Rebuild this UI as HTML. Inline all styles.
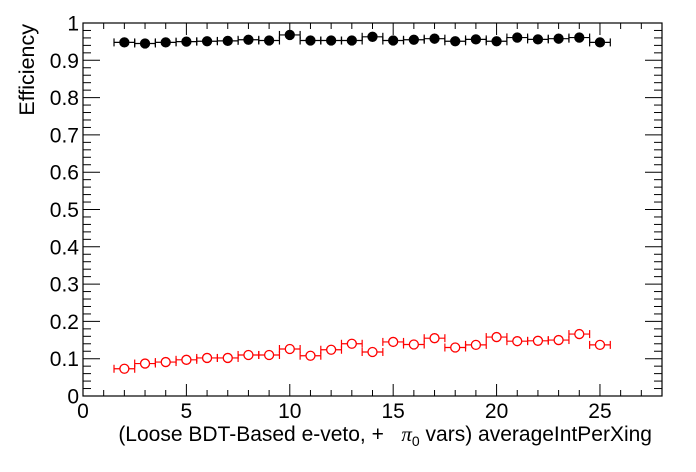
<!DOCTYPE html>
<html><head><meta charset="utf-8"><style>body{margin:0;background:#fff}svg{display:block}text{font-family:"Liberation Sans",Arial,sans-serif;fill:#000}</style></head>
<body>
<svg id="s" width="696" height="472" xmlns="http://www.w3.org/2000/svg"></svg>
<script>
const s=document.getElementById('s');
const X0=83,X1=662,Y0=396,Y1=23;
const px=v=>X0+(X1-X0)*v/28, py=v=>Y0-(Y0-Y1)*v;
let h='<rect x="0" y="0" width="696" height="472" fill="#fff"/>';
h+=`<rect x="${X0}" y="${Y1}" width="${X1-X0}" height="${Y0-Y1}" fill="none" stroke="#000" stroke-width="1.2"/>`;
for(let i=0;i<=28;i++){const x=px(i),L=i%5==0?12:6;
 h+=`<line x1="${x}" y1="${Y0}" x2="${x}" y2="${Y0-L}" stroke="#000"/><line x1="${x}" y1="${Y1}" x2="${x}" y2="${Y1+L}" stroke="#000"/>`;
 if(i%5==0)h+=`<text x="${x}" y="418" font-size="21" text-anchor="middle">${i}</text>`;}
for(let i=0;i<=50;i++){const y=py(i/50),L=i%5==0?17:8;
 h+=`<line x1="${X0}" y1="${y}" x2="${X0+L}" y2="${y}" stroke="#000"/><line x1="${X1}" y1="${y}" x2="${X1-L}" y2="${y}" stroke="#000"/>`;
 if(i%5==0){let t=(i/50).toFixed(1);if(t=="0.0")t="0";if(t=="1.0")t="1";h+=`<text x="79" y="${y+7.5}" font-size="21" text-anchor="end">${t}</text>`;}}
const B=[.948,.945,.948,.95,.951,.952,.955,.953,.968,.953,.953,.953,.963,.953,.955,.958,.951,.956,.951,.961,.956,.958,.961,.948];
const R=[.073,.087,.091,.097,.102,.102,.11,.11,.126,.108,.124,.14,.118,.145,.138,.155,.13,.137,.158,.147,.148,.15,.166,.137];
function pts(d,c,fill){d.forEach((v,k)=>{const x=px(k+2),y=py(v),a=px(k+1.5),b=px(k+2.5);
 h+=`<line x1="${a}" y1="${y}" x2="${b}" y2="${y}" stroke="${c}" stroke-width="1.2"/><line x1="${a}" y1="${y-4}" x2="${a}" y2="${y+4}" stroke="${c}" stroke-width="1.2"/><line x1="${b}" y1="${y-4}" x2="${b}" y2="${y+4}" stroke="${c}" stroke-width="1.2"/>`;
 h+=`<circle cx="${x}" cy="${y}" r="${fill?4.5:4.5}" fill="${fill?c:'#fff'}" stroke="${c}" stroke-width="1.3"/>`;});}
pts(B,'#000',true);pts(R,'#f00',false);
h+=`<text x="652" y="441" font-size="21" text-anchor="end" xml:space="preserve" style="white-space:pre">(Loose BDT-Based e-veto, +   <tspan font-family="Liberation Serif" font-style="italic">π</tspan><tspan font-size="14" dy="5">0</tspan><tspan dy="-5"> vars) averageIntPerXing</tspan></text>`;
h+=`<text transform="translate(34,24) rotate(-90)" font-size="21.5" text-anchor="end">Efficiency</text>`;
s.innerHTML=h;
</script>
</body></html>
